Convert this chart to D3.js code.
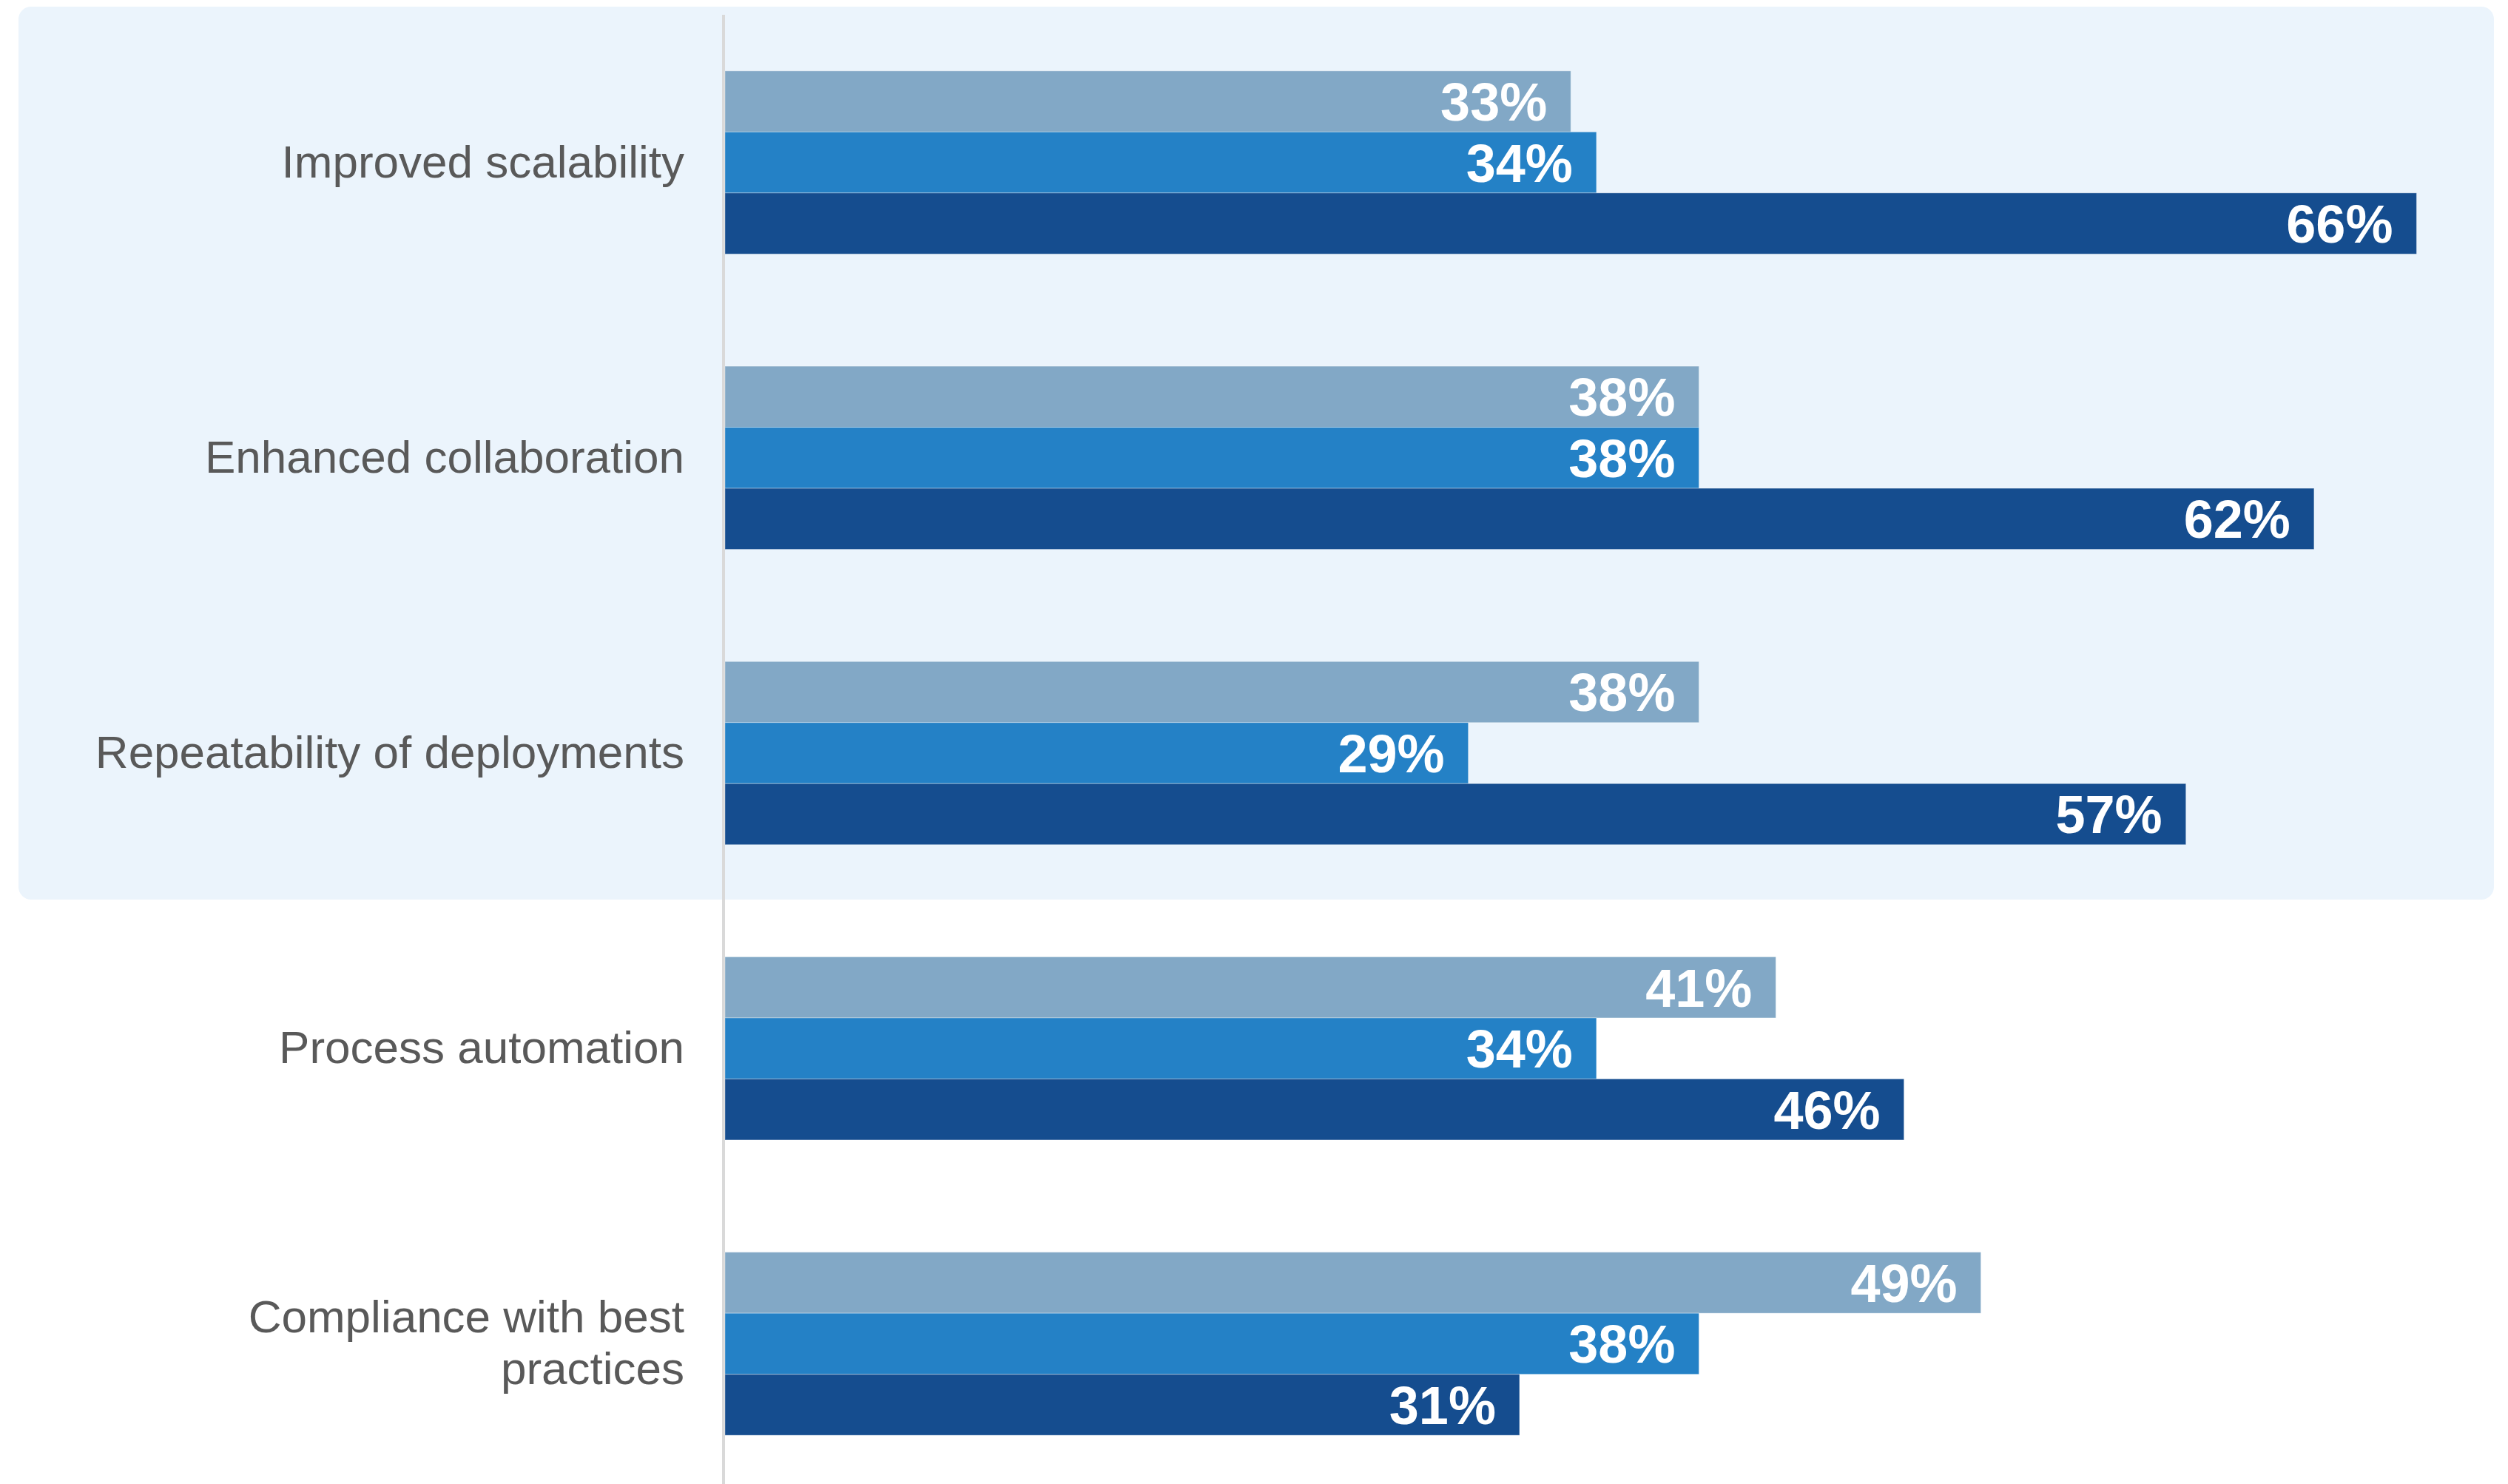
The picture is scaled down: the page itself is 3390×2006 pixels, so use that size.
<!DOCTYPE html>
<html>
<head>
<meta charset="utf-8">
<script src="https://cdn.jsdelivr.net/npm/d3@7"></script>
<style>
  html, body { margin: 0; padding: 0; background: #ffffff; }
  svg { display: block; }
</style>
</head>
<body>
<svg id="chart" width="3390" height="2006"></svg>
<script>
// Categories, top to bottom
const categories = [
  "Improved scalability",
  "Enhanced collaboration",
  "Repeatability of deployments",
  "Process automation",
  "Compliance with best practices"
];

// Three series per category, drawn top to bottom within each group (percent)
const seriesKeys = ["first", "second", "third"];
const firstValues  = [33, 38, 38, 41, 49];
const secondValues = [34, 38, 29, 34, 38];
const thirdValues  = [66, 62, 57, 46, 31];
const seriesColors = ["#82a8c6", "#2481c6", "#154d8f"];

const rows = categories.map((c, i) => ({
  category: c,
  values: [
    { key: "first",  value: firstValues[i] },
    { key: "second", value: secondValues[i] },
    { key: "third",  value: thirdValues[i] }
  ]
}));

const W = 3390, H = 2006;
const svg = d3.select("#chart");

const x = d3.scaleLinear().domain([0, 70]).range([980, 3405]);
const y0 = d3.scaleBand().domain(categories).range([20, 2016])
  .paddingInner(0.38).paddingOuter(0.19);
const y1 = d3.scaleBand().domain(seriesKeys).range([0, y0.bandwidth()]).padding(0);
const color = d3.scaleOrdinal().domain(seriesKeys).range(seriesColors);

// Highlight panel behind the first three categories
svg.append("rect")
  .attr("x", 25).attr("y", 9)
  .attr("width", 3371 - 25)
  .attr("height", 1216 - 9)
  .attr("rx", 17).attr("ry", 17)
  .attr("fill", "#ebf4fc");

// Category axis line
svg.append("line")
  .attr("x1", 978).attr("x2", 978)
  .attr("y1", 20).attr("y2", H)
  .attr("stroke", "#d9d9d9")
  .attr("stroke-width", 4);

// Bars
const groups = svg.append("g").selectAll("g")
  .data(rows)
  .join("g")
  .attr("transform", d => `translate(0,${y0(d.category)})`);

groups.selectAll("rect")
  .data(d => d.values)
  .join("rect")
  .attr("x", x(0))
  .attr("y", d => y1(d.key))
  .attr("width", d => x(d.value) - x(0))
  .attr("height", y1.bandwidth())
  .attr("fill", d => color(d.key))
  .attr("stroke", "rgba(255,255,255,0.35)")
  .attr("stroke-width", 1);

// Value labels inside bar ends
groups.selectAll("text.value")
  .data(d => d.values)
  .join("text")
  .attr("class", "value")
  .attr("x", d => x(d.value) - 32)
  .attr("y", d => y1(d.key) + y1.bandwidth() / 2)
  .attr("dy", "0.36em")
  .attr("text-anchor", "end")
  .attr("font-family", "'Liberation Sans', Arial, sans-serif")
  .attr("font-weight", "bold")
  .attr("font-size", 72)
  .attr("fill", "#ffffff")
  .text(d => d.value + "%");

// Category labels, wrapped to fit the left margin
const labelX = 925, lineH = 70, maxW = 820;
const labels = svg.append("g").selectAll("text")
  .data(categories)
  .join("text")
  .attr("x", labelX)
  .attr("text-anchor", "end")
  .attr("font-family", "'Liberation Sans', Arial, sans-serif")
  .attr("font-size", 62)
  .attr("fill", "#595959");

labels.each(function (d) {
  const t = d3.select(this);
  const words = d.split(" ");
  const lines = [];
  let line = [];
  const probe = t.append("tspan");
  words.forEach(w => {
    const test = line.concat(w).join(" ");
    probe.text(test);
    if (probe.node().getComputedTextLength() > maxW && line.length) {
      lines.push(line.join(" "));
      line = [w];
    } else {
      line.push(w);
    }
  });
  lines.push(line.join(" "));
  probe.remove();
  const cy = y0(d) + y0.bandwidth() / 2;
  const firstBaseline = cy + 20 - (lines.length - 1) * lineH / 2;
  lines.forEach((l, i) => {
    t.append("tspan")
      .attr("x", labelX)
      .attr("y", firstBaseline + i * lineH)
      .text(l);
  });
});
</script>
</body>
</html>
